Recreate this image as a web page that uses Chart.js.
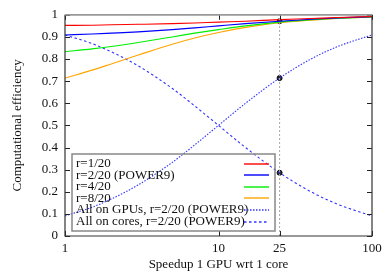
<!DOCTYPE html>
<html><head><meta charset="utf-8">
<script src="https://cdn.jsdelivr.net/npm/chart.js@4"></script>
<style>html,body{margin:0;padding:0;background:#fff}canvas{display:block}</style>
</head><body>
<canvas id="c" width="390" height="273"></canvas>
<script>
const speedups = [1, 1.5, 2, 3, 5, 7, 10, 15, 25, 40, 60, 100];
const r1 = [0.952, 0.953, 0.955, 0.957, 0.960, 0.963, 0.967, 0.971, 0.978, 0.983, 0.988, 0.992];
const r2 = [0.909, 0.913, 0.917, 0.923, 0.933, 0.941, 0.950, 0.960, 0.971, 0.980, 0.986, 0.991];
const r4 = [0.833, 0.846, 0.857, 0.875, 0.900, 0.917, 0.933, 0.950, 0.967, 0.978, 0.985, 0.990];
const r8 = [0.714, 0.750, 0.778, 0.818, 0.867, 0.895, 0.920, 0.943, 0.964, 0.976, 0.984, 0.990];
const allGpus = [0.091, 0.130, 0.167, 0.231, 0.333, 0.412, 0.500, 0.600, 0.714, 0.800, 0.857, 0.909];
const allCores = [0.909, 0.870, 0.833, 0.769, 0.667, 0.588, 0.500, 0.400, 0.286, 0.200, 0.143, 0.091];
const markX = 25;
const markValues = [0.971, 0.714, 0.286];
const xTicks = [1, 10, 25, 100];
const labels = ["r=1/20", "r=2/20 (POWER9)", "r=4/20", "r=8/20", "All on GPUs, r=2/20 (POWER9)", "All on cores, r=2/20 (POWER9)"];

const FONT = "Liberation Serif";
const pts = arr => speedups.map((s, i) => ({x: s, y: arr[i]}));
const mk = (label, arr, color, dash) => ({
  label, data: pts(arr), borderColor: color, backgroundColor: color,
  borderWidth: 1.1, borderDash: dash || [], pointRadius: 0, fill: false,
  cubicInterpolationMode: 'monotone', inLegend: true
});

const datasets = [
  {label: 'vline', data: [{x: markX, y: 0}, {x: markX, y: 1}], borderColor: '#aaaaaa', borderWidth: 1, borderDash: [2, 2], pointRadius: 0},
  mk(labels[0], r1, '#ff0000'),
  mk(labels[1], r2, '#0000ff'),
  mk(labels[2], r4, '#00ee00'),
  mk(labels[3], r8, '#ffa500'),
  mk(labels[4], allGpus, '#3333ff', [1.5, 1.5]),
  mk(labels[5], allCores, '#3333ff', [2.5, 2.5]),
  {label: 'marks', data: markValues.map(v => ({x: markX, y: v})), showLine: false, pointRadius: 2.5, pointBackgroundColor: '#333', pointBorderColor: '#000', pointBorderWidth: 1}
];

const framePlugin = {
  id: 'frame',
  afterDraw(chart) {
    const {ctx, chartArea: a, scales} = chart;
    ctx.save();
    ctx.strokeStyle = '#222'; ctx.lineWidth = 1;
    ctx.beginPath();
    for (let v = 0; v <= 10; v++) {
      const y = Math.round(scales.y.getPixelForValue(v / 10)) + 0.5;
      ctx.moveTo(a.left, y); ctx.lineTo(a.left + 5, y);
      ctx.moveTo(a.right, y); ctx.lineTo(a.right - 5, y);
    }
    for (const t of xTicks) {
      const x = Math.round(scales.x.getPixelForValue(t)) + 0.5;
      ctx.moveTo(x, a.bottom); ctx.lineTo(x, a.bottom - 5);
      ctx.moveTo(x, a.top); ctx.lineTo(x, a.top + 5);
    }
    ctx.stroke();
    ctx.strokeStyle = '#333'; ctx.lineWidth = 1.2;
    ctx.beginPath();
    ctx.moveTo(a.left, a.top); ctx.lineTo(a.left, a.bottom); ctx.lineTo(a.right, a.bottom); ctx.lineTo(a.right, a.top);
    ctx.stroke();
    ctx.strokeStyle = '#999'; ctx.lineWidth = 1.8;
    ctx.beginPath(); ctx.moveTo(a.left, a.top); ctx.lineTo(a.right, a.top); ctx.stroke();
    // legend
    const bx = 72, by = 154, bw = 203, bh = 77;
    ctx.strokeStyle = '#888'; ctx.lineWidth = 1.5;
    ctx.strokeRect(bx, by, bw, bh);
    ctx.font = '13px "' + FONT + '"';
    ctx.fillStyle = '#111'; ctx.textBaseline = 'middle'; ctx.textAlign = 'left';
    const legendSets = chart.data.datasets.filter(d => d.inLegend);
    legendSets.forEach((d, i) => {
      const y = by + 9.5 + i * 11.6;
      ctx.fillText(d.label, bx + 4, y);
      ctx.save();
      ctx.strokeStyle = d.borderColor; ctx.lineWidth = 1.4;
      ctx.setLineDash(d.borderDash || []);
      ctx.beginPath(); ctx.moveTo(bx + bw - 31, Math.round(y)); ctx.lineTo(bx + bw - 6, Math.round(y)); ctx.stroke();
      ctx.restore();
    });
    ctx.restore();
  }
};

new Chart(document.getElementById('c'), {
  type: 'line',
  data: {datasets},
  options: {
    responsive: false, devicePixelRatio: 1, animation: false,
    layout: {padding: {left: 0, right: 18, top: 14, bottom: 0}},
    plugins: {legend: {display: false}, tooltip: {enabled: false}},
    scales: {
      x: {
        type: 'logarithmic', min: 1, max: 100,
        afterBuildTicks: s => { s.ticks = xTicks.map(v => ({value: v})); },
        afterFit: s => { s.height = 37; },
        grid: {display: false, drawTicks: false}, border: {display: false},
        ticks: {color: '#111', font: {family: FONT, size: 13}, padding: 5, maxRotation: 0, autoSkip: false, callback: v => String(v)},
        title: {display: true, text: 'Speedup 1 GPU wrt 1 core', color: '#111', font: {family: FONT, size: 13}, padding: {top: 2, bottom: 1}}
      },
      y: {
        min: 0, max: 1,
        afterFit: s => { s.width = 65; },
        grid: {display: false, drawTicks: false}, border: {display: false},
        ticks: {stepSize: 0.1, color: '#111', font: {family: FONT, size: 13}, padding: 7, callback: v => String(Math.round(v * 10) / 10)},
        title: {display: true, text: 'Computational efficiency', color: '#111', font: {family: FONT, size: 13}, padding: {top: 10, bottom: 4}}
      }
    }
  },
  plugins: [framePlugin]
});
</script>
</body></html>
